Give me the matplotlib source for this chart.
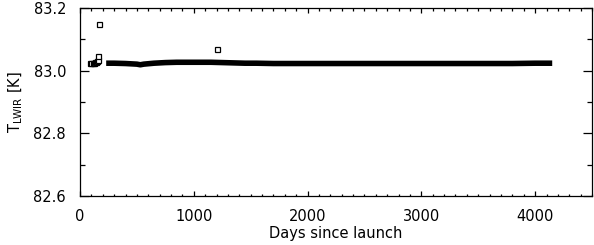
import matplotlib
matplotlib.use("Agg")
import matplotlib.pyplot as plt
from matplotlib.ticker import MultipleLocator

# Dense, nearly constant temperature track (days, K)
track_days = [230, 300, 400, 500, 530, 560, 650, 750, 850, 950, 1050, 1150, 1250,
              1350, 1450, 1550, 1700, 1850, 2000, 2200, 2400, 2600, 2800, 3000,
              3200, 3400, 3600, 3800, 4000, 4150]
track_temp = [83.024, 83.024, 83.023, 83.021, 83.019, 83.021, 83.024, 83.026,
              83.027, 83.027, 83.027, 83.027, 83.026, 83.025, 83.024, 83.024,
              83.023, 83.023, 83.023, 83.023, 83.023, 83.023, 83.023, 83.023,
              83.023, 83.023, 83.023, 83.023, 83.024, 83.024]

# Early / isolated measurements
early_days = [90, 100, 110, 120, 130, 140, 150, 160, 170, 160, 1200]
early_temp = [83.024, 83.025, 83.025, 83.026, 83.027, 83.028, 83.030, 83.034,
              83.150, 83.048, 83.068]

fig = plt.figure(figsize=(5.94, 2.45), dpi=100)
ax = fig.add_axes([0.1347, 0.2, 0.8620, 0.767])

ax.plot(track_days, track_temp, color="black", lw=4.0, solid_capstyle="butt")
ax.plot(early_days, early_temp, ls="none", marker="s", ms=3.6, mfc="white",
        mec="black", mew=0.9)

ax.set_xlim(0, 4500)
ax.set_ylim(82.6, 83.2)
ax.xaxis.set_major_locator(MultipleLocator(1000))
ax.xaxis.set_minor_locator(MultipleLocator(100))
ax.yaxis.set_major_locator(MultipleLocator(0.2))
ax.yaxis.set_minor_locator(MultipleLocator(0.1))
ax.yaxis.set_major_formatter(matplotlib.ticker.FormatStrFormatter("%.1f"))

fs = 10.5
ax.tick_params(axis="x", which="major", direction="in", length=3.8, width=0.9,
               top=True, bottom=True, labelsize=fs, pad=9)
ax.tick_params(axis="x", which="minor", direction="in", length=1.8, width=0.9,
               top=True, bottom=True)
ax.tick_params(axis="y", which="major", direction="in", length=6.5, width=0.9,
               left=True, right=True, labelsize=fs, pad=10)
ax.tick_params(axis="y", which="minor", direction="in", length=3.6, width=0.9,
               left=True, right=True)
for s in ax.spines.values():
    s.set_linewidth(0.9)

ax.set_xlabel("Days since launch", fontsize=fs, labelpad=2)
ax.set_ylabel(r"T$_{\mathregular{LWIR}}$ [K]", fontsize=fs, labelpad=6)

fig.savefig("out.png", dpi=100)
